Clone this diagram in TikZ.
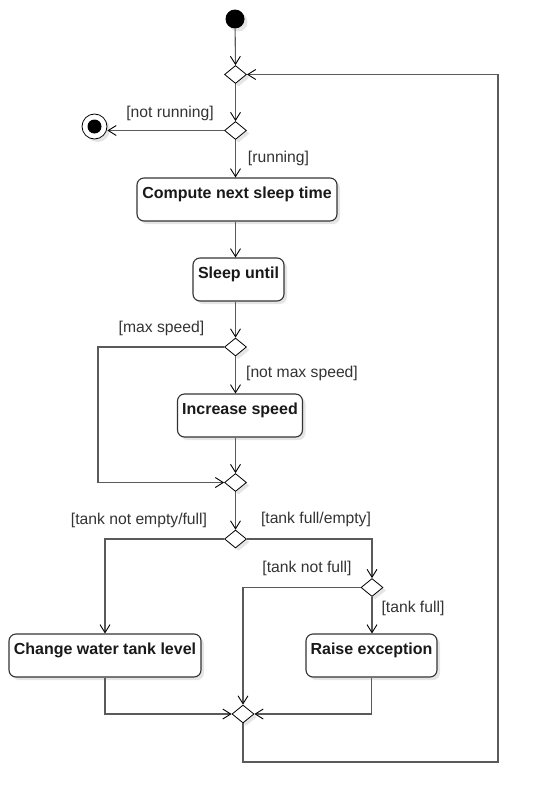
\documentclass[tikz,border=0pt]{standalone}
\usepackage{fontspec}
\setmainfont{Liberation Sans}
\usetikzlibrary{shapes.geometric,arrows.meta,shadows}

\definecolor{edgegray}{HTML}{5A5A5A}
\definecolor{labelgray}{HTML}{333333}

\tikzset{
  flow/.style={draw=edgegray, line width=1.1pt,
    -{Straight Barb[length=8pt,width=10pt,line width=0.9pt,color=black]}},
  softshadow/.style={drop shadow={shadow xshift=3pt,shadow yshift=-3pt,opacity=0.1,fill=black}},
  activity/.style={rectangle, rounded corners=7pt, draw=labelgray, line width=1.1pt,
    fill=white, softshadow, inner sep=0pt, text height=20pt, text depth=23pt,
    font=\fontsize{16}{19}\selectfont\bfseries, text=black!90},
  decision/.style={diamond, draw=black, line width=0.8pt, fill=white, softshadow,
    inner sep=0pt, minimum width=22pt, minimum height=18pt},
  guard/.style={font=\fontsize{15.7}{18}\selectfont, text=labelgray, inner sep=0pt}
}

\begin{document}
\begin{tikzpicture}[x=1pt,y=-1pt]
  \useasboundingbox (0,0) rectangle (539,803);

  % start and end
  \node[circle, fill=black, minimum size=19pt, inner sep=0pt, softshadow] (start) at (235,19) {};
  \node[circle, draw=black, line width=0.8pt, fill=white, minimum size=25pt, inner sep=0pt, softshadow] (final) at (94.5,126.5) {};
  \node[circle, fill=black, minimum size=14pt, inner sep=0pt] (finaldot) at (final) {};

  % decisions / merges
  \begin{scope}[every node/.style={decision}]
    \node (d1) at (235.5,74.5)  {};
    \node (d2) at (235.5,130.5) {};
    \node (d3) at (235.5,347) {};
    \node (d4) at (235.5,482.5) {};
    \node (d5) at (235.5,539)   {};
    \node (d6) at (372,587.5) {};
    \node (d7) at (243,714)   {};
  \end{scope}

  % actions
  \begin{scope}[every node/.style={activity}]
    \node[minimum width=200pt] (compute) at (237,199.5)   {Compute next sleep time};
    \node[minimum width=91pt]  (sleep)   at (238.5,279.5) {Sleep until};
    \node[minimum width=125pt] (speed)   at (240,415.5)   {Increase speed};
    \node[minimum width=192pt] (level)   at (105,655.5)   {Change water tank level};
    \node[minimum width=131pt] (raise)   at (371.5,655.5) {Raise exception};
  \end{scope}

  \coordinate (leftx)  at (98,0);
  \coordinate (loopbl) at (243,762);
  \coordinate (looptr) at (498,74.5);

  % flows
  \draw[flow] (start) -- (d1.north);
  \draw[flow] (d1.south) -- (d2.north);
  \draw[flow] (d2.west) -- (d2.west -| final.east);
  \draw[flow] (d2.south) -- (d2.south |- compute.north);
  \draw[flow] (compute.south -| d2) -- (sleep.north -| d2);
  \draw[flow] (sleep.south -| d2) -- (d3.north);
  \draw[flow] (d3.west) -- (d3.west -| leftx) -- (d4.west -| leftx) -- (d4.west);
  \draw[flow] (d3.south) -- (d3.south |- speed.north);
  \draw[flow] (speed.south -| d3) -- (d4.north);
  \draw[flow] (d4.south) -- (d5.north);
  \draw[flow] (d5.west) -| (level.north);
  \draw[flow] (d5.east) -| (d6.north);
  \draw[flow] (d6.south) -- (d6.south |- raise.north);
  \draw[flow] (d6.west) -| (d7.north);
  \draw[flow] (level.south) |- (d7.west);
  \draw[flow] (raise.south) |- (d7.east);
  \draw[flow] (d7.south) -- (loopbl) -| (looptr) -- (d1.east);

  % guards
  \begin{scope}[every node/.style={guard}]
    \node (gnotrun)   at (170,113)   {[not running]};
    \node (grun)      at (278.5,158) {[running]};
    \node (gmax)      at (161.5,328) {[max speed]};
    \node (gnotmax)   at (302,373.5) {[not max speed]};
    \node (gnotempty) at (139,520.5) {[tank not empty/full]};
    \node (gfullempt) at (316,519.5) {[tank full/empty]};
    \node (gnotfull)  at (307,568.5) {[tank not full]};
    \node (gfull)     at (413,608.5) {[tank full]};
  \end{scope}

\end{tikzpicture}
\end{document}
